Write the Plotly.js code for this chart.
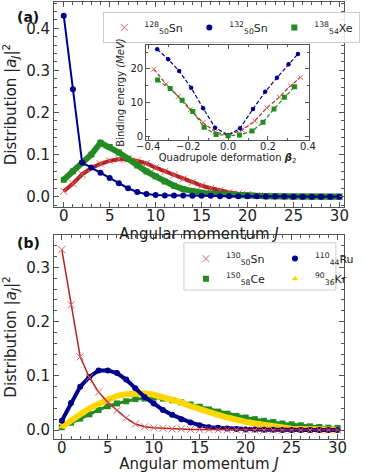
<!DOCTYPE html>
<html>
<head>
<meta charset="utf-8">
<script src="https://cdn.plot.ly/plotly-3.0.1.min.js"></script>
<style>
  html, body { margin: 0; padding: 0; background: #fff; }
  #chart { width: 366px; height: 473px; }
</style>
</head>
<body>
<div id="chart"></div>
<script>
// angular momentum J
var J = [0, 1, 2, 3, 4, 5, 6, 7, 8, 9, 10, 11, 12, 13, 14, 15, 16, 17, 18, 19, 20,
         21, 22, 23, 24, 25, 26, 27, 28, 29, 30];

// panel (a): distribution |a_J|^2
var sn128 = [0.013, 0.031, 0.053, 0.068, 0.078, 0.085, 0.089, 0.089, 0.085, 0.079, 0.069,
             0.060, 0.051, 0.042, 0.034, 0.026, 0.020, 0.014, 0.010, 0.007, 0.005,
             0.003, 0.002, 0.001, 0.001, 0.0005, 0, 0, 0, 0, 0];
var sn132 = [0.430, 0.255, 0.081, 0.069, 0.057, 0.044, 0.032, 0.020, 0.011, 0.006, 0.004,
             0.003, 0.003, 0.003, 0.002, 0.002, 0.002, 0.001, 0.001, 0.001, 0.001,
             0.001, 0.0005, 0.0005, 0.0005, 0, 0, 0, 0, 0, 0];
var xe138 = [0.040, 0.060, 0.080, 0.100, 0.128, 0.118, 0.105, 0.090, 0.074, 0.060, 0.048,
             0.036, 0.026, 0.018, 0.013, 0.0095, 0.007, 0.0055, 0.004, 0.003, 0.002,
             0.0015, 0.001, 0.001, 0.0005, 0, 0, 0, 0, 0, 0];

// inset: binding energy vs beta2
var betaSn128 = [-0.372, -0.31, -0.25, -0.19, -0.125, -0.063, 0, 0.07, 0.134, 0.194, 0.257, 0.313, 0.363];
var eSn128    = [19.9, 15.5, 11.8, 7.8, 4.0, 1.2, 0.3, 1.8, 4.5, 8.4, 11.6, 15.0, 17.5];
var betaSn132 = [-0.355, -0.30, -0.245, -0.185, -0.125, -0.065, 0, 0.06, 0.125, 0.186, 0.245, 0.303, 0.35];
var eSn132    = [25.9, 22.9, 19.4, 14.4, 8.3, 2.5, 0.3, 2.3, 8.1, 13.2, 17.4, 21.4, 24.5];
var betaXe138 = [-0.353, -0.29, -0.23, -0.177, -0.12, -0.06, 0, 0.057, 0.12, 0.175, 0.23, 0.282, 0.333];
var eXe138    = [16.7, 14.2, 10.7, 7.3, 2.6, 0.5, 0.1, 0.3, 1.5, 4.1, 8.1, 11.6, 14.7];

// panel (b)
var sn130 = [0.333, 0.231, 0.135, 0.097, 0.070, 0.051, 0.036, 0.022, 0.011, 0.006, 0.004,
             0.003, 0.002, 0.002, 0.001, 0.001, 0.001, 0.0005, 0.0005, 0.0005, 0,
             0, 0, 0, 0, 0, 0, 0, 0, 0, 0];
var ce150 = [0.005, 0.0135, 0.021, 0.029, 0.037, 0.044, 0.049, 0.053, 0.057, 0.058, 0.060,
             0.058, 0.055, 0.051, 0.047, 0.043, 0.038, 0.034, 0.030, 0.026, 0.023,
             0.020, 0.017, 0.0148, 0.012, 0.0105, 0.0087, 0.0068, 0.0055, 0.0043, 0.004];
var ru110 = [0.017, 0.050, 0.080, 0.098, 0.110, 0.110, 0.105, 0.093, 0.077, 0.061, 0.049,
             0.037, 0.028, 0.020, 0.014, 0.009, 0.005, 0.004, 0.003, 0.002, 0.001,
             0.001, 0.0005, 0.0005, 0, 0, 0, 0, 0, 0, 0];
var kr90  = [0.006, 0.018, 0.031, 0.040, 0.048, 0.057, 0.063, 0.066, 0.068, 0.068, 0.065,
             0.060, 0.057, 0.051, 0.044, 0.038, 0.033, 0.028, 0.023, 0.018, 0.015,
             0.012, 0.009, 0.006, 0.005, 0.0025, 0.002, 0.0015, 0.001, 0.0005, 0.0005];

var RED = '#b22222', RED_MK = '#e06060', BLUE = '#00008b', GREEN = '#228b22', GOLD = '#ffd700';

// one line trace + one marker trace per series; only the markers go in the legend
function series(x, y, xa, ya, lineW, color, mk, name, legend, rank) {
  var line = {x: x, y: y, xaxis: xa, yaxis: ya, mode: 'lines', showlegend: false,
              line: {color: color, width: lineW}, hoverinfo: 'skip'};
  var pts = {x: x, y: y, xaxis: xa, yaxis: ya, mode: 'markers', marker: mk,
             name: name, showlegend: !!name, legend: legend, legendrank: rank};
  return [line, pts];
}
var mkX = function (s) { return {symbol: 'x-thin', size: s, color: RED_MK, line: {width: 1, color: RED_MK}}; };
var mk = function (sym, s, c) { return {symbol: sym, size: s, color: c}; };

var data = [].concat(
  // (a)
  series(J, sn128, 'x', 'y', 4, RED, mkX(7), '<sup>128</sup><sub>50</sub>Sn', 'legend', 1),
  series(J, xe138, 'x', 'y', 6, GREEN, mk('square', 6, GREEN), '<sup>138</sup><sub>54</sub>Xe', 'legend', 3),
  series(J, sn132, 'x', 'y', 2, BLUE, mk('circle', 6, BLUE), '<sup>132</sup><sub>50</sub>Sn', 'legend', 2),
  // inset
  [
    {x: betaSn128, y: eSn128, xaxis: 'x3', yaxis: 'y3', mode: 'lines+markers', showlegend: false,
     line: {color: RED, width: 1.2, dash: '4px,2px'}, marker: mkX(5)},
    {x: betaSn132, y: eSn132, xaxis: 'x3', yaxis: 'y3', mode: 'lines+markers', showlegend: false,
     line: {color: BLUE, width: 1.2, dash: '4px,2px'}, marker: mk('circle', 4.5, BLUE)},
    {x: betaXe138, y: eXe138, xaxis: 'x3', yaxis: 'y3', mode: 'lines+markers', showlegend: false,
     line: {color: GREEN, width: 1.2, dash: '4px,2px'}, marker: mk('square', 5, GREEN)}
  ],
  // (b)
  series(J, ce150, 'x2', 'y2', 3, GREEN, mk('square', 6, GREEN), '<sup>150</sup><sub>58</sub>Ce', 'legend3', 1),
  series(J, kr90, 'x2', 'y2', 6, GOLD, mk('triangle-up', 6, GOLD), '<sup>90</sup><sub>36</sub>Kr', 'legend3', 2),
  series(J, ru110, 'x2', 'y2', 4, BLUE, mk('circle', 6, BLUE), '<sup>110</sup><sub>44</sub>Ru', 'legend2', 2),
  series(J, sn130, 'x2', 'y2', 1.5, RED, mkX(7), '<sup>130</sup><sub>50</sub>Sn', 'legend2', 1)
);

function frame(extra) {
  var ax = {
    showline: true, linecolor: '#555', linewidth: 1, mirror: 'ticks',
    ticks: 'inside', ticklen: 5, tickwidth: 1, tickcolor: '#555',
    showgrid: false, zeroline: false,
    tickfont: {size: 15, color: '#222'}
  };
  for (var k in extra) ax[k] = extra[k];
  return ax;
}

var minorJ = {ticks: 'inside', ticklen: 3, tickwidth: 1, tickcolor: '#555', dtick: 1};
var minorD = {ticks: 'inside', ticklen: 3, tickwidth: 1, tickcolor: '#555', dtick: 0.02};
var jTitle = {text: 'Angular momentum <i>J</i>', font: {size: 15, color: '#222'}, standoff: 1};
var dTitle = {text: 'Distribution |<i>a<sub>J</sub></i>|<sup>2</sup>', font: {size: 15, color: '#222'}, standoff: 6};

var legendBase = {
  orientation: 'h', xanchor: 'left', yanchor: 'top',
  font: {size: 11, color: '#222'}, itemwidth: 30,
  entrywidthmode: 'pixels', entrywidth: 44, traceorder: 'normal'
};
function leg(extra) {
  var l = {};
  for (var k in legendBase) l[k] = legendBase[k];
  for (var k2 in extra) l[k2] = extra[k2];
  return l;
}

var layout = {
  width: 366, height: 473,
  margin: {l: 54, r: 5, t: 2, b: 34},
  paper_bgcolor: '#fff', plot_bgcolor: '#fff',
  font: {family: 'DejaVu Sans', size: 14, color: '#222'},
  showlegend: true,
  xaxis: frame({domain: [0, 1], anchor: 'y', range: [-1.06, 30.5], dtick: 5, tick0: 0,
                ticklabelstandoff: -5, minor: minorJ, title: jTitle}),
  yaxis: frame({domain: [0.531, 1], anchor: 'x', range: [-0.0245, 0.4625], dtick: 0.1,
                tickformat: '.1f', minor: minorD, title: dTitle}),
  xaxis2: frame({domain: [0, 1], anchor: 'y2', range: [-0.85, 30.7], dtick: 5, tick0: 0,
                 ticklabelstandoff: -5, minor: minorJ, title: jTitle}),
  yaxis2: frame({domain: [0, 0.467], anchor: 'x2', range: [-0.0166, 0.36], dtick: 0.1,
                 tickformat: '.1f', minor: minorD, title: dTitle}),
  xaxis3: frame({domain: [0.318, 0.879], anchor: 'y3', range: [-0.41, 0.405], dtick: 0.2,
                 tick0: 0, tickformat: '.1f', ticklen: 4, tickfont: {size: 10, color: '#222'},
                 ticklabelstandoff: -3,
                 minor: {ticks: 'inside', ticklen: 2, tickcolor: '#555', dtick: 0.1},
                 title: {text: 'Quadrupole deformation <b><i>β</i></b><sub>2</sub>',
                         font: {size: 10, color: '#222'}, standoff: 1}}),
  yaxis3: frame({domain: [0.684, 0.902], anchor: 'x3', range: [-1.2, 27.2], dtick: 10,
                 ticklen: 4, tickfont: {size: 10, color: '#222'},
                 minor: {ticks: 'inside', ticklen: 2, tickcolor: '#555', dtick: 5},
                 title: {text: 'Binding energy <i>(MeV)</i>', font: {size: 10, color: '#222'}, standoff: 3}}),
  legend: leg({x: 0.17, y: 0.977, entrywidth: 40,
               bgcolor: 'rgba(255,255,255,0.85)', bordercolor: '#ccc', borderwidth: 1}),
  legend2: leg({x: 0.455, y: 0.446, bgcolor: 'rgba(0,0,0,0)'}),
  legend3: leg({x: 0.455, y: 0.400, bgcolor: 'rgba(0,0,0,0)'}),
  shapes: [
    {type: 'rect', xref: 'paper', yref: 'paper', x0: 0.448, x1: 0.972, y0: 0.341, y1: 0.449,
     line: {color: '#ccc', width: 1}, fillcolor: 'rgba(255,255,255,0.85)', layer: 'above'}
  ],
  annotations: [
    {text: '<b>(a)</b>', xref: 'paper', yref: 'paper', x: -0.135, y: 0.988, showarrow: false,
     font: {size: 14, color: '#111'}},
    {text: '<b>(b)</b>', xref: 'paper', yref: 'paper', x: -0.135, y: 0.448, showarrow: false,
     font: {size: 14, color: '#111'}}
  ]
};

Plotly.newPlot('chart', data, layout, {displayModeBar: false, staticPlot: true});
</script>
</body>
</html>
